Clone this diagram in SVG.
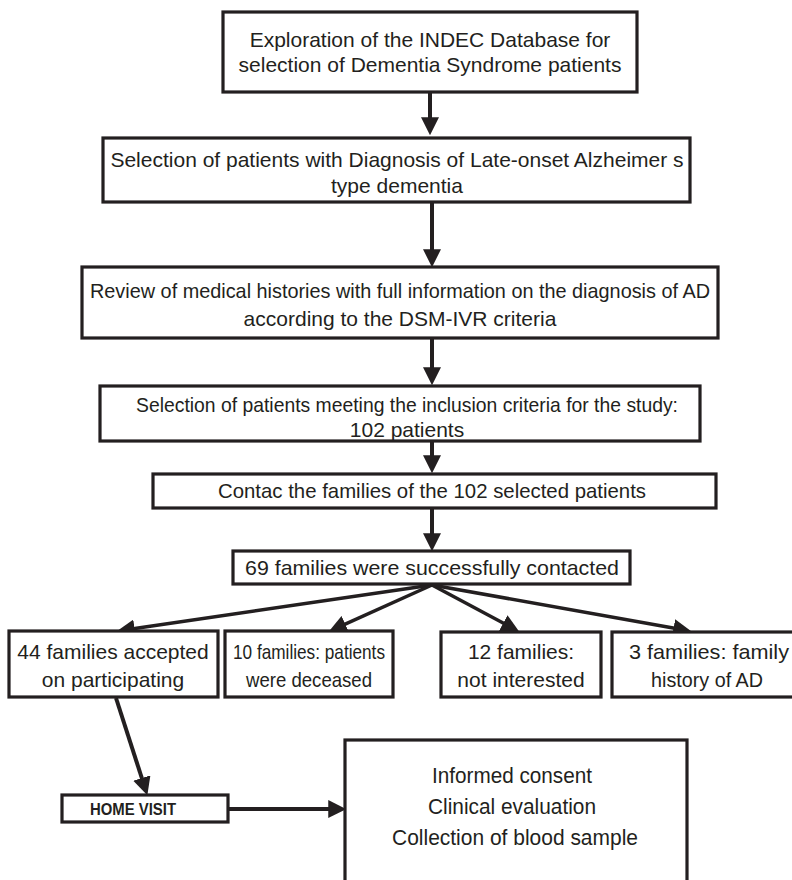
<svg xmlns="http://www.w3.org/2000/svg" width="792" height="880" viewBox="0 0 792 880">
<style>
  .box{fill:#fff;stroke:#231f20;stroke-width:3.2}
  .t{font-family:"Liberation Sans",Arial,Helvetica,sans-serif;font-size:21px;fill:#231f20;text-anchor:middle}
  .t2{font-family:"Liberation Sans",Arial,Helvetica,sans-serif;font-size:22px;fill:#231f20;text-anchor:middle}
  .b{font-family:"Liberation Sans",Arial,Helvetica,sans-serif;font-size:16px;font-weight:bold;fill:#231f20;text-anchor:middle}
  .c{stroke:#231f20;stroke-width:4;fill:none;marker-end:url(#ah)}
  .c2{stroke:#231f20;stroke-width:3.5;fill:none;marker-end:url(#ah)}
</style>
<defs>
  <marker id="ah" markerUnits="userSpaceOnUse" markerWidth="18" markerHeight="18" viewBox="0 0 16 16" refX="6" refY="8" orient="auto">
    <path d="M0,0 L16,8 L0,16 z" fill="#231f20"/>
  </marker>
</defs>
<rect width="792" height="880" fill="#fff"/>
<g id="connectors">
  <line class="c" x1="430" y1="93" x2="430" y2="124"/>
  <line class="c" x1="432" y1="203" x2="432" y2="256"/>
  <line class="c" x1="432" y1="339" x2="432" y2="374"/>
  <line class="c" x1="432" y1="441" x2="432" y2="462"/>
  <line class="c" x1="432" y1="508" x2="432" y2="540"/>
  <line class="c2" x1="432" y1="585" x2="127.9" y2="629.5"/>
  <line class="c2" x1="432" y1="585" x2="339.1" y2="626.9"/>
  <line class="c2" x1="432" y1="585" x2="509.2" y2="626.3"/>
  <line class="c2" x1="432" y1="585" x2="680.2" y2="629.2"/>
  <line class="c" x1="116" y1="698" x2="143.9" y2="784.5"/>
  <line class="c" x1="228" y1="809" x2="335" y2="809"/>
</g>
<g id="n1">
  <rect class="box" x="223" y="12" width="414" height="80"/>
  <text class="t" x="430" y="47">Exploration of the INDEC Database for</text>
  <text class="t" x="430" y="72">selection of Dementia Syndrome patients</text>
</g>
<g id="n2">
  <rect class="box" x="103" y="138" width="587" height="64"/>
  <text class="t" x="397" y="167">Selection of patients with Diagnosis of Late-onset Alzheimer s</text>
  <text class="t" x="397" y="193">type dementia</text>
</g>
<g id="n3">
  <rect class="box" x="82" y="267" width="636" height="71"/>
  <text class="t" x="400" y="298" textLength="620" lengthAdjust="spacingAndGlyphs">Review of medical histories with full information on the diagnosis of AD</text>
  <text class="t" x="400" y="326">according to the DSM-IVR criteria</text>
</g>
<g id="n4">
  <rect class="box" x="100" y="386" width="600" height="55"/>
  <text class="t" x="407" y="412" textLength="542" lengthAdjust="spacingAndGlyphs">Selection of patients meeting the inclusion criteria for the study:</text>
  <text class="t" x="407" y="437">102 patients</text>
</g>
<g id="n5">
  <rect class="box" x="153" y="474" width="563" height="34"/>
  <text class="t" x="432" y="498" textLength="428" lengthAdjust="spacingAndGlyphs">Contac the families of the 102 selected patients</text>
</g>
<g id="n6">
  <rect class="box" x="233" y="551" width="397" height="33"/>
  <text class="t" x="432" y="575" textLength="374" lengthAdjust="spacingAndGlyphs">69 families were successfully contacted</text>
</g>
<g id="n7">
  <rect class="box" x="9" y="631" width="209" height="66"/>
  <text class="t" x="113" y="659">44 families accepted</text>
  <text class="t" x="113" y="687">on participating</text>
</g>
<g id="n8">
  <rect class="box" x="225" y="631" width="168" height="66"/>
  <text class="t" x="309" y="659" textLength="152" lengthAdjust="spacingAndGlyphs">10 families: patients</text>
  <text class="t" x="309" y="687" textLength="126" lengthAdjust="spacingAndGlyphs">were deceased</text>
</g>
<g id="n9">
  <rect class="box" x="441" y="632" width="160" height="65"/>
  <text class="t" x="521" y="659">12 families:</text>
  <text class="t" x="521" y="687">not interested</text>
</g>
<g id="n10">
  <rect class="box" x="612" y="632" width="194" height="65"/>
  <text class="t" x="709" y="659" textLength="160" lengthAdjust="spacingAndGlyphs">3 families: family</text>
  <text class="t" x="707" y="687" textLength="112" lengthAdjust="spacingAndGlyphs">history of AD</text>
</g>
<g id="n11">
  <rect class="box" x="62" y="795" width="166" height="27"/>
  <text class="b" x="133" y="815" textLength="86" lengthAdjust="spacingAndGlyphs">HOME VISIT</text>
</g>
<g id="n12">
  <rect class="box" x="345" y="740" width="342" height="150"/>
  <text class="t2" x="512" y="783" textLength="160" lengthAdjust="spacingAndGlyphs">Informed consent</text>
  <text class="t2" x="512" y="814" textLength="168" lengthAdjust="spacingAndGlyphs">Clinical evaluation</text>
  <text class="t2" x="515" y="845" textLength="246" lengthAdjust="spacingAndGlyphs">Collection of blood sample</text>
</g>
</svg>
